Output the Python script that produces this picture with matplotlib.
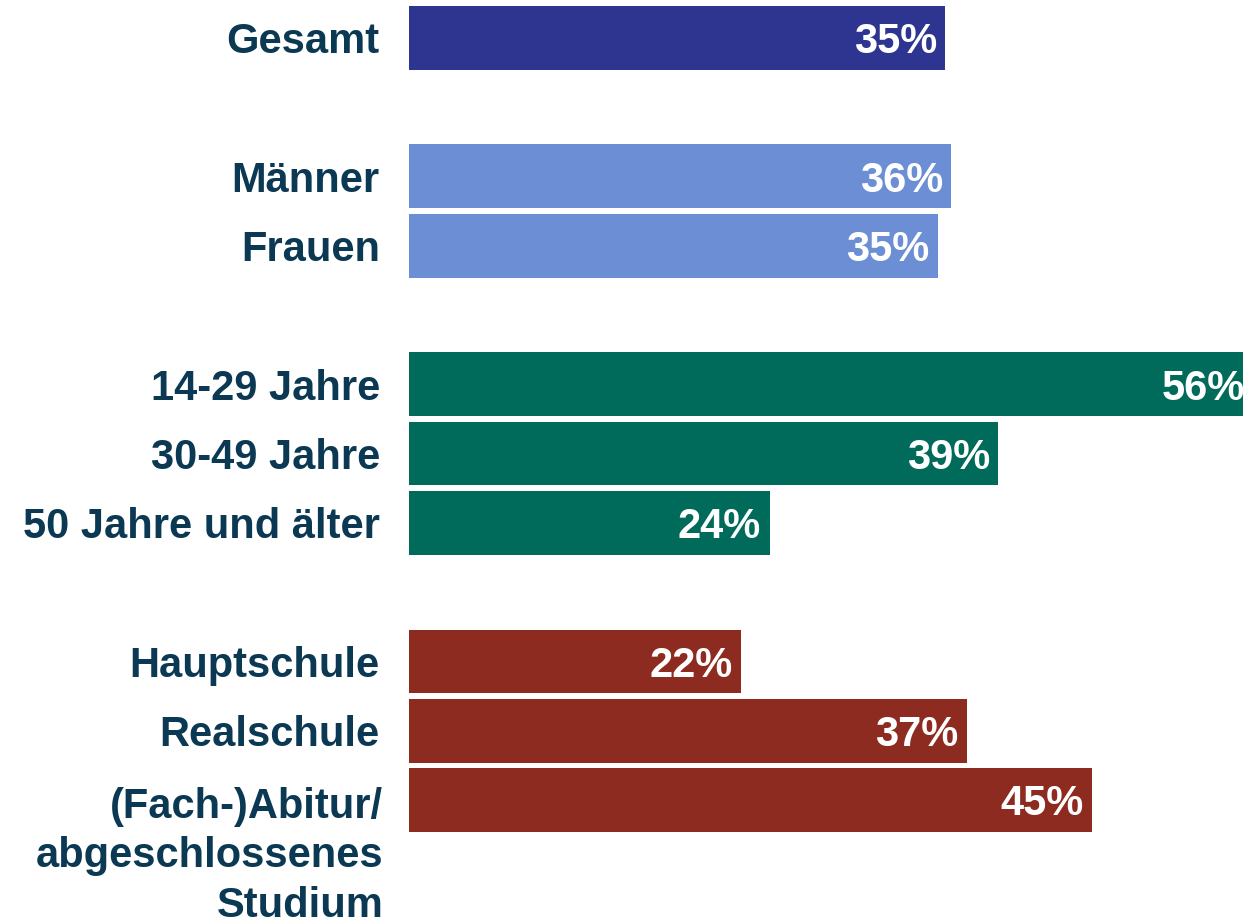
import matplotlib
matplotlib.use("Agg")
import matplotlib.pyplot as plt

# Daten
categories = ["Gesamt", "Männer", "Frauen", "14-29 Jahre", "30-49 Jahre",
              "50 Jahre und älter", "Hauptschule", "Realschule",
              "(Fach-)Abitur/\nabgeschlossenes\nStudium"]
values = [35.4, 35.8, 34.9, 55.7, 38.9, 23.8, 21.9, 36.8, 45.1]
pct_labels = ["35%", "36%", "35%", "56%", "39%", "24%", "22%", "37%", "45%"]
groups = [0, 1, 1, 2, 2, 2, 3, 3, 3]

group_colors = ["#2E3590", "#6B8ED5", "#006B5A", "#8E2B20"]
text_color = "#0B3853"

# Zeilen mit Leerzeilen zwischen den Gruppen
rows = []
r = 0
prev = groups[0]
for g in groups:
    if g != prev:
        r += 1
        prev = g
    rows.append(r)
    r += 1

plt.rcParams['font.family'] = ['Liberation Sans', 'DejaVu Sans']

fig = plt.figure(figsize=(12.43, 9.19), dpi=100)
ax = fig.add_axes([409 / 1243, 0.0918, 834 / 1243, 0.9048])

colors = [group_colors[g] for g in groups]
ax.barh(rows, values, height=0.92, color=colors)

for y, v, lab in zip(rows, values, pct_labels):
    ax.annotate(lab, xy=(v, y), xytext=(-6, 0), textcoords="offset points",
                ha="right", va="center_baseline", color="white",
                fontsize=30, fontweight="bold", annotation_clip=False)

ax.set_xlim(0, 55.05)
ax.set_ylim(rows[-1] + 0.5, -0.5)
ax.set_yticks(rows)
# letzte Beschriftung ist mehrzeilig -> extra Text (baseline = letzte Zeile)
ax.set_yticklabels(categories[:-1] + [""], fontsize=30, fontweight="bold",
                   color=text_color)
ax.annotate(categories[-1], xy=(0, rows[-1] + 1.69),
            xycoords=("axes fraction", "data"),
            xytext=(-18.5, 0), textcoords="offset points",
            ha="right", va="baseline", multialignment="right",
            fontsize=30, fontweight="bold", color=text_color,
            annotation_clip=False, linespacing=1.31)
ax.tick_params(axis="y", length=0, pad=21)
ax.set_xticks([])
for s in ax.spines.values():
    s.set_visible(False)

fig.savefig("out.png", dpi=100)
